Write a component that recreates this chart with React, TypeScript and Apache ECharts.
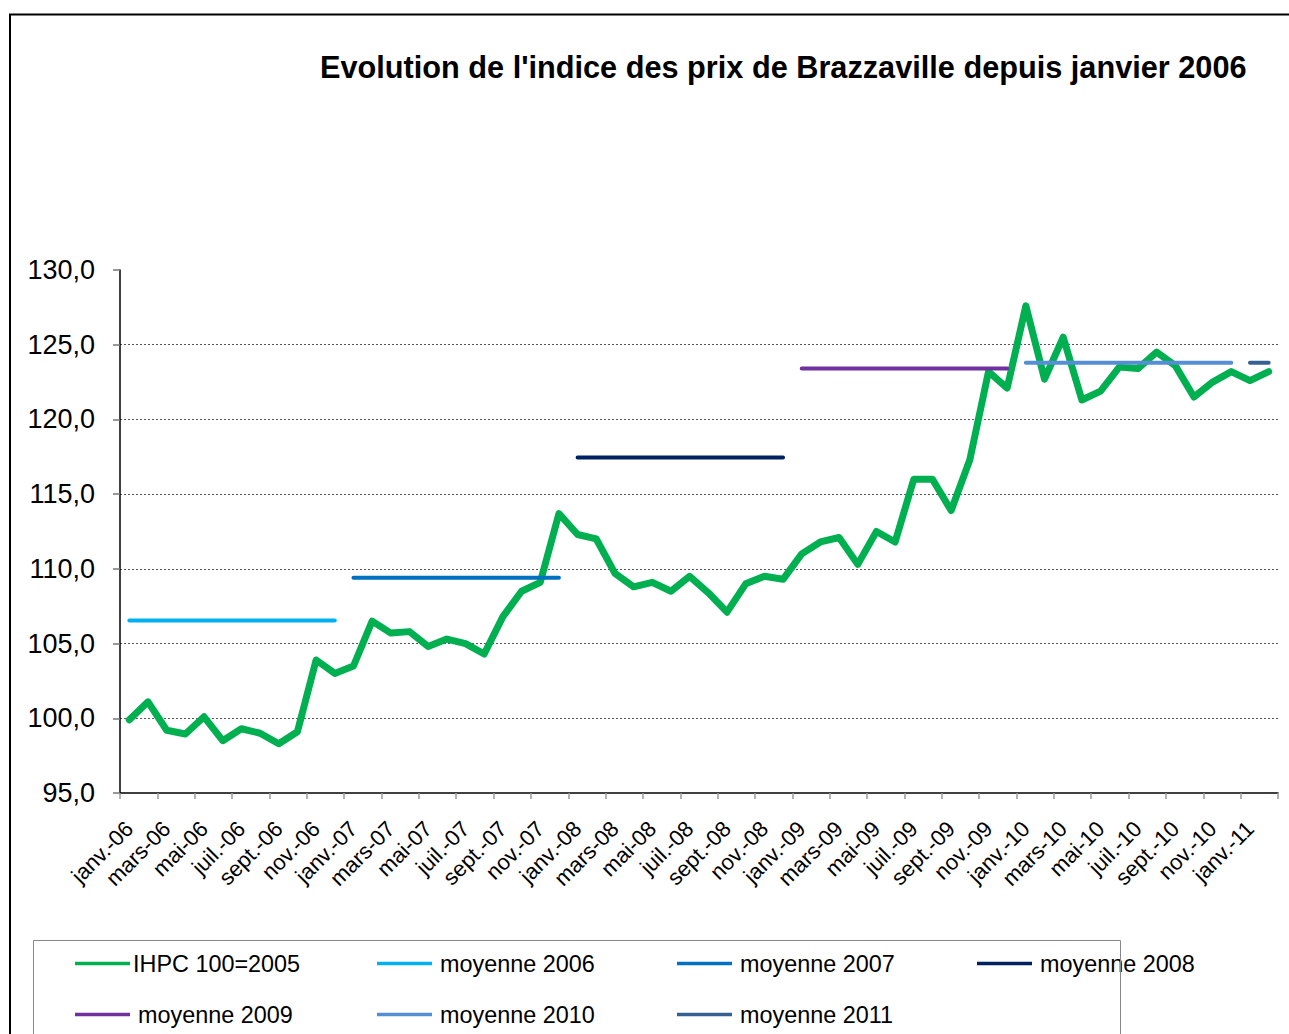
import React, { useEffect, useRef } from "react";
import * as echarts from "echarts";

const FONT = "'Liberation Sans', Arial, Helvetica, sans-serif";

const TITLE = "Evolution de l'indice des prix de Brazzaville depuis janvier 2006";

const monthNames = ["janv.", "févr.", "mars", "avr.", "mai", "juin", "juil.", "août", "sept.", "oct.", "nov.", "déc."];
const yearSuffixes = ["06", "07", "08", "09", "10", "11"];

// IHPC 100=2005, monthly from janv.-06 to févr.-11
const ihpc = [
  99.9, 101.1, 99.2, 98.95, 100.1, 98.5, 99.3, 99.0, 98.3, 99.1, 103.9, 103.0,
  103.5, 106.5, 105.7, 105.8, 104.8, 105.3, 105.0, 104.3, 106.8, 108.5, 109.1, 113.7,
  112.3, 112.0, 109.7, 108.8, 109.1, 108.5, 109.5, 108.4, 107.1, 109.0, 109.5, 109.3,
  111.0, 111.8, 112.1, 110.3, 112.5, 111.8, 116.0, 116.0, 113.9, 117.3, 123.2, 122.1,
  127.6, 122.7, 125.5, 121.3, 121.9, 123.5, 123.4, 124.5, 123.6, 121.5, 122.5, 123.2,
  122.6, 123.2,
];

const averageNames = ["moyenne 2006", "moyenne 2007", "moyenne 2008", "moyenne 2009", "moyenne 2010", "moyenne 2011"];
const averageValues = [106.55, 109.4, 117.45, 123.4, 123.8, 123.8];
const averageColors = ["#00B0F0", "#0070C0", "#002060", "#7030A0", "#558ED5", "#376092"];

const yTicks = [95, 100, 105, 110, 115, 120, 125, 130];

const categories: string[] = [];
for (let i = 0; i < ihpc.length; i++) {
  categories.push(monthNames[i % 12] + "-" + yearSuffixes[Math.floor(i / 12)]);
}

export default function App() {
  const ref = useRef<HTMLDivElement>(null);

  useEffect(() => {
    if (!ref.current) return;
    const chart = echarts.init(ref.current, null, { renderer: "svg" });

    const averageSeries = averageNames.map((name, k) => ({
      name,
      type: "line",
      data: categories.map((_, i) => (Math.floor(i / 12) === k ? averageValues[k] : null)),
      symbol: "none",
      lineStyle: { color: averageColors[k], width: 4, cap: "round" },
      itemStyle: { color: averageColors[k] },
      z: 3,
    }));

    const legendNames = ["IHPC 100=2005", ...averageNames];
    const legendPos = [
      [75, 952], [377, 952], [677, 952], [977, 952],
      [75, 1003], [377, 1003], [677, 1003],
    ];
    const legends = legendNames.map((name, k) => ({
      data: [{ name, icon: "rect" }],
      left: legendPos[k][0],
      top: legendPos[k][1],
      padding: 0,
      itemWidth: 55,
      itemHeight: 3.5,
      selectedMode: false,
      textStyle: {
        fontFamily: FONT,
        fontSize: 23.4,
        color: "#000",
        padding: k === 0 ? [0, 0, 0, -2] : [0, 0, 0, 3],
      },
    }));

    chart.setOption({
      animation: false,
      backgroundColor: "#fff",
      title: {
        text: TITLE,
        left: 320,
        top: 52,
        padding: 0,
        textStyle: { fontFamily: FONT, fontSize: 30.7, fontWeight: "bold", color: "#000" },
      },
      legend: legends,
      grid: { left: 120, top: 270, right: 11, bottom: 241, containLabel: false },
      xAxis: {
        type: "category",
        data: categories,
        boundaryGap: true,
        axisLine: { lineStyle: { color: "#000", width: 1.5 } },
        axisTick: { show: true, interval: 1, length: 6, lineStyle: { color: "#999", width: 1.5 } },
        axisLabel: {
          interval: 1,
          rotate: 45,
          margin: 32,
          align: "right",
          verticalAlign: "middle",
          padding: [8, 0, 0, 0],
          fontFamily: FONT,
          fontSize: 22,
          color: "#000",
        },
        splitLine: { show: false },
      },
      yAxis: {
        type: "value",
        min: yTicks[0],
        max: yTicks[yTicks.length - 1],
        interval: 5,
        axisLine: { show: true, lineStyle: { color: "#000", width: 1.5 } },
        axisTick: { show: true, length: 7, lineStyle: { color: "#777", width: 1.5 } },
        axisLabel: {
          margin: 25,
          fontFamily: FONT,
          fontSize: 27,
          color: "#000",
          formatter: (v: number) => v.toFixed(1).replace(".", ","),
        },
        splitLine: {
          show: true,
          showMinLine: false,
          showMaxLine: false,
          lineStyle: { color: "#555", width: 1, type: [2, 2] },
        },
      },
      graphic: [
        {
          type: "rect",
          shape: { x: 10, y: 14.5, width: 1300, height: 1100 },
          style: { fill: "none", stroke: "#000", lineWidth: 2 },
          silent: true,
          z: 10,
        },
        {
          type: "rect",
          shape: { x: 33.5, y: 940.5, width: 1087, height: 200 },
          style: { fill: "none", stroke: "#888", lineWidth: 1 },
          silent: true,
          z: 10,
        },
      ],
      series: [
        {
          name: "IHPC 100=2005",
          type: "line",
          data: ihpc,
          symbol: "none",
          lineStyle: { color: "#00B050", width: 7, join: "round", cap: "round" },
          itemStyle: { color: "#00B050" },
          z: 2,
        },
        ...averageSeries,
      ],
    });

    return () => chart.dispose();
  }, []);

  return (
    <div
      ref={ref}
      style={{ position: "absolute", left: 0, top: 0, width: 1289, height: 1034 }}
    />
  );
}
